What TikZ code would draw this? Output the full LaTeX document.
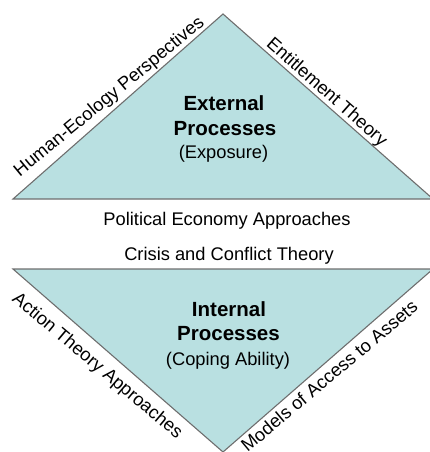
\documentclass[tikz,border=0pt]{standalone}
\usepackage{fontspec}
\setmainfont{Liberation Sans}
\definecolor{trifill}{RGB}{185,224,225}
\definecolor{triline}{RGB}{110,110,110}
\begin{document}
\begin{tikzpicture}[x=1pt,y=-1pt,
  tri/.style={fill=trifill,draw=triline,line width=1.1pt,line join=miter},
  title/.style={font=\fontsize{20.5}{24}\selectfont\bfseries,anchor=base,inner sep=0pt},
  sub/.style={font=\fontsize{18.3}{22}\selectfont,anchor=base,inner sep=0pt},
  side/.style={font=\fontsize{18.3}{22}\selectfont,anchor=base,inner sep=0pt}]
\useasboundingbox (0,0) rectangle (429,452);
% upper triangle
\coordinate (ul) at (13,199);
\coordinate (ut) at (223,14);
\coordinate (ur) at (433,199);
\draw[tri] (ul) -- (ut) -- (ur) -- cycle;
% lower triangle
\coordinate (ll) at (13,269);
\coordinate (lr) at (433,269);
\coordinate (lb) at (223,452);
\draw[tri] (ll) -- (lr) -- (lb) -- cycle;
% upper titles
\node[title] (ext1) at (224,110) {External};
\node[title] (ext2) at (225,135) {Processes};
\node[sub] (ext3) at (223.5,158) {(Exposure)};
% lower titles
\node[title] (int1) at (229,316) {Internal};
\node[title] (int2) at (228.5,340.5) {Processes};
\node[sub] (int3) at (228,365) {(Coping Ability)};
% middle texts
\node[sub] (pol) at (227,225) {Political Economy Approaches};
\node[sub] (cri) at (229,260) {Crisis and Conflict Theory};
% side labels
\node[side,rotate=39.5] (hum) at (112.5,101) {Human-Ecology Perspectives};
\node[side,rotate=-41.4] (ent) at (323.3,96.3) {Entitlement Theory};
\node[side,rotate=-40] (act) at (94,370) {Action Theory Approaches};
\node[side,rotate=40] (mod) at (333.3,380.9) {Models of Access to Assets};
\end{tikzpicture}
\end{document}
